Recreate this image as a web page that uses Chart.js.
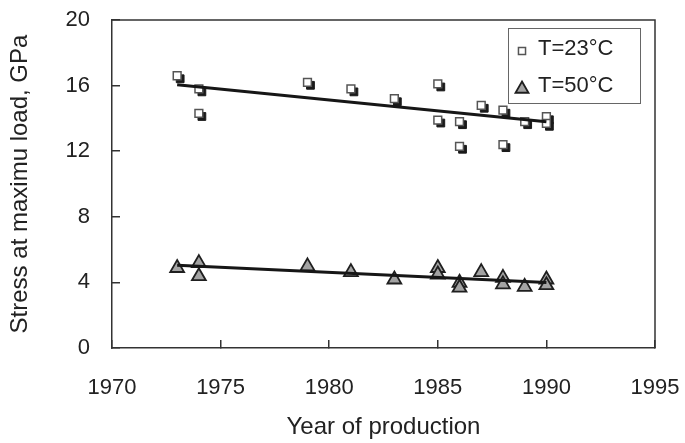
<!DOCTYPE html>
<html>
<head>
<meta charset="utf-8">
<script src="https://cdn.jsdelivr.net/npm/chart.js@4.4.0/dist/chart.umd.min.js"></script>
<style>
  html, body { margin: 0; padding: 0; background: #fff; }
  #wrap { width: 685px; height: 443px; position: relative; }
</style>
</head>
<body>
<div id="wrap"><canvas id="stressChart"></canvas></div>
<script>
// values
const years23 = [1973, 1974, 1974, 1979, 1981, 1983, 1985, 1985, 1986, 1986, 1987, 1988, 1988, 1989, 1990, 1990];
const stress23 = [16.6, 15.8, 14.3, 16.2, 15.8, 15.2, 16.1, 13.9, 13.8, 12.3, 14.8, 14.5, 12.4, 13.8, 14.1, 13.7];
const years50 = [1973, 1974, 1974, 1979, 1981, 1983, 1985, 1985, 1986, 1986, 1987, 1988, 1988, 1989, 1990, 1990];
const stress50 = [5.0, 5.3, 4.5, 5.1, 4.75, 4.3, 5.0, 4.6, 4.1, 3.8, 4.75, 4.4, 4.0, 3.85, 4.3, 3.95];
const trendYears = [1973, 1990];
const trend23 = [16.05, 13.8];
const trend50 = [5.05, 4.0];
const xTicks = [1970, 1975, 1980, 1985, 1990, 1995];
const yTicks = [0, 4, 8, 12, 16, 20];
const labels = ['T=23°C', 'T=50°C'];

const FONT = "'Liberation Sans', Arial, sans-serif";
const AXIS = '#333';
const TEXT = '#222';

const pts = (xs, ys) => xs.map((x, i) => ({ x: x, y: ys[i] }));

// decale un jeu de quelques pixels (ombre des carres, centrage des triangles)
const shiftPlugin = {
  id: 'shift',
  beforeDatasetDraw(chart, args) {
    const ds = chart.data.datasets[args.index];
    if (ds.drawShift) {
      chart.ctx.save();
      chart.ctx.translate(ds.drawShift[0], ds.drawShift[1]);
    }
  },
  afterDatasetDraw(chart, args) {
    if (chart.data.datasets[args.index].drawShift) chart.ctx.restore();
  }
};

// cadre haut + droite
const framePlugin = {
  id: 'frame',
  beforeDatasetsDraw(chart) {
    const { ctx, chartArea: a } = chart;
    ctx.save();
    ctx.strokeStyle = AXIS;
    ctx.lineWidth = 1.5;
    ctx.beginPath();
    ctx.moveTo(a.left, a.top);
    ctx.lineTo(a.right, a.top);
    ctx.lineTo(a.right, a.bottom);
    ctx.stroke();
    ctx.restore();
  }
};

// legende encadree dans la zone du graphique
const legendBoxPlugin = {
  id: 'legendBox',
  afterDraw(chart) {
    const { ctx, chartArea: a } = chart;
    const w = 132, h = 75;
    const x0 = a.right - 15 - w;
    const y0 = a.top + 8;
    ctx.save();
    ctx.fillStyle = '#fff';
    ctx.fillRect(x0, y0, w, h);
    ctx.strokeStyle = '#666';
    ctx.lineWidth = 1;
    ctx.strokeRect(x0 + 0.5, y0 + 0.5, w, h);

    const items = [chart.data.datasets[1], chart.data.datasets[2]];
    items.forEach((ds, i) => {
      const cy = y0 + 21 + i * 37;
      ctx.fillStyle = ds.backgroundColor;
      ctx.strokeStyle = ds.borderColor;
      ctx.lineWidth = ds.borderWidth;
      const r = ds.pointStyle === 'rect' ? 5 : 7.5;
      Chart.helpers.drawPoint(ctx, { pointStyle: ds.pointStyle, radius: r, borderWidth: ds.borderWidth, rotation: 0 }, x0 + 14, cy + (ds.pointStyle === 'rect' ? 2 : 3));
      ctx.fillStyle = TEXT;
      ctx.font = '22px ' + FONT;
      ctx.textBaseline = 'middle';
      ctx.textAlign = 'left';
      ctx.fillText(labels[i], x0 + 30, cy);
    });
    ctx.restore();
  }
};

new Chart(document.getElementById('stressChart'), {
  type: 'scatter',
  data: {
    datasets: [
      {
        label: 'shadow',
        data: pts(years23, stress23),
        pointStyle: 'rect',
        pointRadius: 5.5,
        backgroundColor: '#1a1a1a',
        borderColor: '#1a1a1a',
        borderWidth: 1,
        drawShift: [3, 3],
        order: 3
      },
      {
        label: labels[0],
        data: pts(years23, stress23),
        pointStyle: 'rect',
        pointRadius: 5.5,
        backgroundColor: '#ffffff',
        borderColor: '#555555',
        borderWidth: 1.5,
        order: 2
      },
      {
        label: labels[1],
        data: pts(years50, stress50),
        pointStyle: 'triangle',
        pointRadius: 8,
        backgroundColor: '#a3a3a3',
        borderColor: '#1f1f1f',
        borderWidth: 1.8,
        drawShift: [0, 2],
        order: 2
      },
      {
        label: 'trend23',
        data: pts(trendYears, trend23),
        showLine: true,
        borderColor: '#161616',
        borderWidth: 3,
        pointRadius: 0,
        order: 0
      },
      {
        label: 'trend50',
        data: pts(trendYears, trend50),
        showLine: true,
        borderColor: '#161616',
        borderWidth: 3,
        pointRadius: 0,
        order: 0
      }
    ]
  },
  options: {
    responsive: true,
    maintainAspectRatio: false,
    animation: false,
    layout: { padding: { left: 0, top: 20, right: 30, bottom: 0 } },
    plugins: {
      legend: { display: false },
      tooltip: { enabled: false }
    },
    scales: {
      x: {
        type: 'linear',
        min: 1970,
        max: 1995,
        afterBuildTicks: s => { s.ticks = xTicks.map(v => ({ value: v })); },
        afterFit: s => { s.height = 95; s.paddingLeft = 0; s.paddingRight = 0; },
        ticks: {
          callback: v => String(v),
          color: TEXT,
          font: { family: FONT, size: 22 },
          padding: 35,
          maxRotation: 0
        },
        grid: { drawOnChartArea: false, drawTicks: true, tickLength: -8, color: AXIS, lineWidth: 1.5 },
        border: { color: AXIS, width: 1.5 },
        title: {
          display: true,
          text: 'Year of production',
          color: TEXT,
          font: { family: FONT, size: 24 },
          padding: { top: 0, bottom: 1 }
        }
      },
      y: {
        min: 0,
        max: 20,
        afterBuildTicks: s => { s.ticks = yTicks.map(v => ({ value: v })); },
        afterFit: s => { s.width = 112; s.paddingTop = 0; s.paddingBottom = 0; },
        ticks: {
          color: TEXT,
          font: { family: FONT, size: 22 },
          padding: 30
        },
        grid: { drawOnChartArea: false, drawTicks: true, tickLength: -8, color: AXIS, lineWidth: 1.5 },
        border: { color: AXIS, width: 1.5 },
        title: {
          display: true,
          text: 'Stress at maximu load, GPa',
          color: TEXT,
          font: { family: FONT, size: 24 },
          padding: { top: 6, bottom: 0 }
        }
      }
    }
  },
  plugins: [shiftPlugin, framePlugin, legendBoxPlugin]
});
</script>
</body>
</html>
